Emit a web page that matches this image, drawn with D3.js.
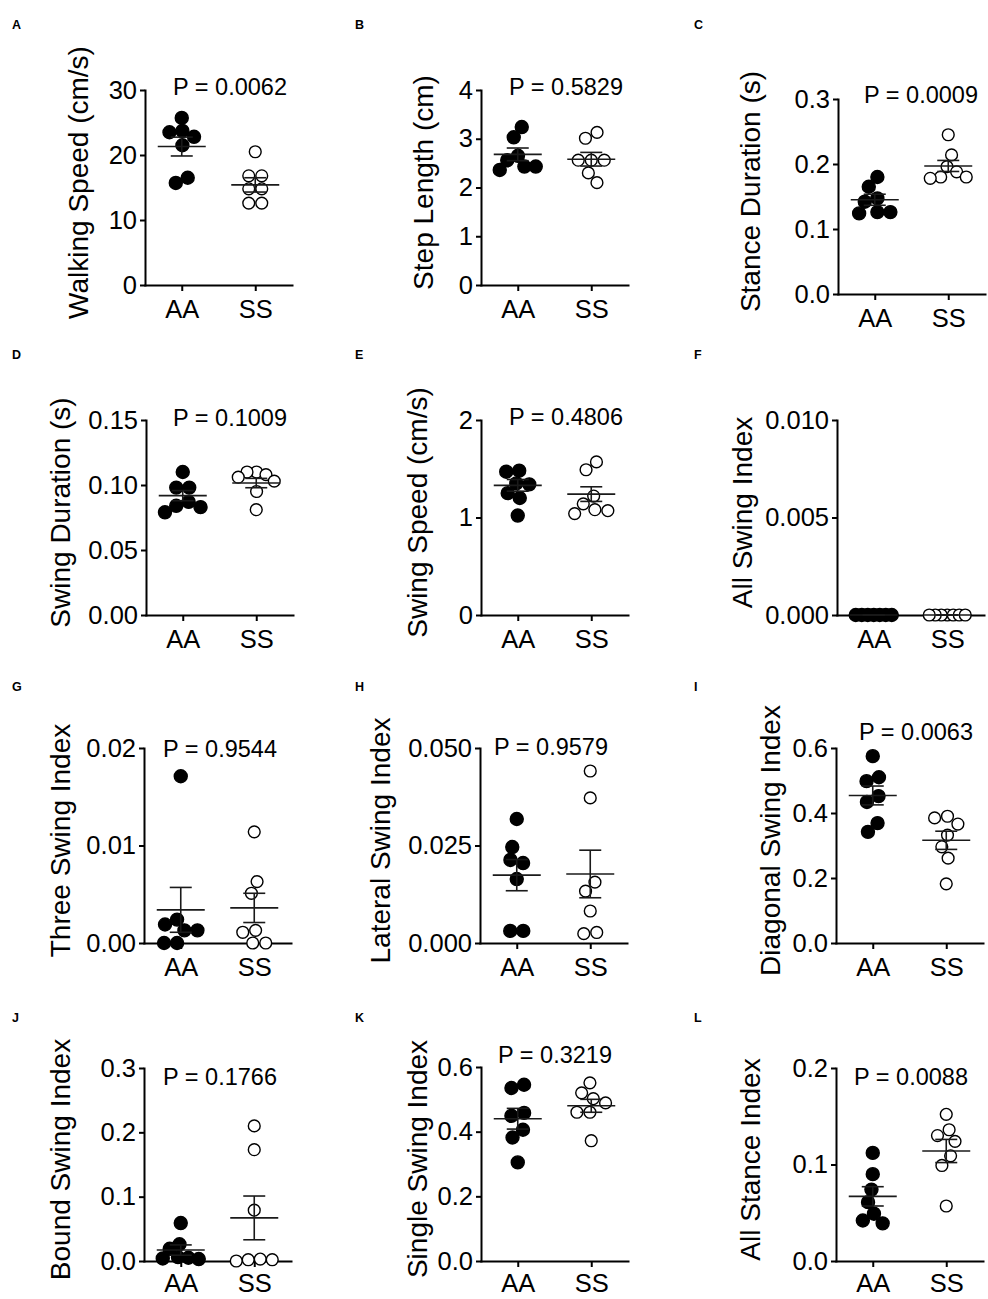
<!DOCTYPE html>
<html>
<head>
<meta charset="utf-8">
<script src="https://cdn.jsdelivr.net/npm/d3@7"></script>
<style>
  body { margin: 0; background: #fff; }
  svg text { font-family: "Liberation Sans", Arial, sans-serif; fill: #000; }
</style>
</head>
<body>
<div id="chart"></div>
<script>
// data
const groups = ["AA", "SS"];
const panelLetters = ["A", "B", "C", "D", "E", "F", "G", "H", "I", "J", "K", "L"];
const yTitles = [
  "Walking Speed (cm/s)", "Step Length (cm)", "Stance Duration (s)",
  "Swing Duration (s)", "Swing Speed (cm/s)", "All Swing Index",
  "Three Swing Index", "Lateral Swing Index", "Diagonal Swing Index",
  "Bound Swing Index", "Single Swing Index", "All Stance Index"
];
const pLabels = [
  "P = 0.0062", "P = 0.5829", "P = 0.0009",
  "P = 0.1009", "P = 0.4806", null,
  "P = 0.9544", "P = 0.9579", "P = 0.0063",
  "P = 0.1766", "P = 0.3219", "P = 0.0088"
];
const yTicks = [
  [0, 10, 20, 30], [0, 1, 2, 3, 4], [0, 0.1, 0.2, 0.3],
  [0, 0.05, 0.10, 0.15], [0, 1, 2], [0, 0.005, 0.010],
  [0, 0.01, 0.02], [0, 0.025, 0.050], [0, 0.2, 0.4, 0.6],
  [0, 0.1, 0.2, 0.3], [0, 0.2, 0.4, 0.6], [0, 0.1, 0.2]
];
const tickDecimals = [0, 0, 1, 2, 0, 3, 2, 3, 1, 1, 1, 1];

const aaPoints = [
  [25.7, 23.7, 23.5, 22.8, 21.5, 16.5, 15.7],
  [3.24, 3.03, 2.65, 2.56, 2.43, 2.43, 2.36],
  [0.180, 0.165, 0.147, 0.142, 0.126, 0.124, 0.126],
  [0.110, 0.098, 0.098, 0.087, 0.084, 0.083, 0.079],
  [1.48, 1.47, 1.35, 1.34, 1.25, 1.20, 1.02],
  [0, 0, 0, 0, 0, 0, 0],
  [0.0171, 0.0024, 0.0019, 0.0013, 0.0013, 0, 0],
  [0.0318, 0.0246, 0.0213, 0.0205, 0.0164, 0.0031, 0.0031],
  [0.575, 0.510, 0.498, 0.452, 0.434, 0.369, 0.342],
  [0.059, 0.026, 0.019, 0.006, 0.005, 0.004, 0.003],
  [0.545, 0.535, 0.458, 0.449, 0.406, 0.382, 0.305],
  [0.112, 0.090, 0.074, 0.061, 0.049, 0.042, 0.039]
];
const ssPoints = [
  [20.5, 16.8, 16.8, 14.8, 14.8, 12.6, 12.6],
  [3.13, 3.01, 2.56, 2.56, 2.56, 2.30, 2.10],
  [0.245, 0.214, 0.196, 0.188, 0.180, 0.180, 0.178],
  [0.110, 0.110, 0.108, 0.106, 0.103, 0.095, 0.081],
  [1.57, 1.49, 1.22, 1.14, 1.08, 1.07, 1.04],
  [0, 0, 0, 0, 0, 0, 0],
  [0.0114, 0.0063, 0.0051, 0.0013, 0.0011, 0, 0],
  [0.0441, 0.0372, 0.0156, 0.0133, 0.0082, 0.0027, 0.0024],
  [0.390, 0.385, 0.366, 0.332, 0.296, 0.261, 0.182],
  [0.210, 0.173, 0.079, 0.003, 0.002, 0.002, 0.000],
  [0.551, 0.520, 0.502, 0.489, 0.460, 0.460, 0.372],
  [0.152, 0.136, 0.130, 0.124, 0.109, 0.099, 0.057]
];
const aaMean = [21.3, 2.68, 0.145, 0.0918, 1.33, 0, 0.0034, 0.0174, 0.454, 0.017, 0.44, 0.067];
const aaSem  = [1.45, 0.13, 0.0085, 0.0039, 0.06, 0, 0.0023, 0.0040, 0.029, 0.008, 0.032, 0.010];
const ssMean = [15.4, 2.58, 0.197, 0.1015, 1.24, 0, 0.0036, 0.0177, 0.316, 0.067, 0.48, 0.114];
const ssSem  = [1.1, 0.14, 0.0085, 0.0036, 0.075, 0, 0.0015, 0.0061, 0.028, 0.034, 0.02, 0.012];

// panel placement on the page
const plotW = 147;
const layout = [
  {x: 145, y: 90,   h: 195, titleDx: -57, pDx: 142, pDy: 5},
  {x: 481, y: 90,   h: 195, titleDx: -48, pDx: 142, pDy: 5},
  {x: 838, y: 99,   h: 195, titleDx: -78, pDx: 140, pDy: 4},
  {x: 146, y: 420,  h: 195, titleDx: -76, pDx: 141, pDy: 6},
  {x: 481, y: 420,  h: 195, titleDx: -54, pDx: 142, pDy: 5},
  {x: 837, y: 420,  h: 195, titleDx: -85, pDx: 0,   pDy: 0},
  {x: 144, y: 748,  h: 195, titleDx: -74, pDx: 133, pDy: 9},
  {x: 480, y: 748,  h: 195, titleDx: -90, pDx: 128, pDy: 7},
  {x: 836, y: 748,  h: 195, titleDx: -56, pDx: 137, pDy: -8},
  {x: 144, y: 1068, h: 193, titleDx: -74, pDx: 133, pDy: 17},
  {x: 481, y: 1067, h: 194, titleDx: -54, pDx: 131, pDy: -4},
  {x: 836, y: 1068, h: 193, titleDx: -76, pDx: 132, pDy: 17}
];
const letterX = [12, 355, 694];
const letterY = [29, 359, 691, 1022];

const R = 6.5;

const svg = d3.select("#chart")
  .append("svg")
  .attr("width", 988)
  .attr("height", 1299);

// simple beeswarm: spread points that would overlap, then centre each cluster
function swarm(values, y) {
  const d = 2 * R;
  const pts = values.map(v => ({v: v, y: y(v), x: 0})).sort((a, b) => a.y - b.y);
  const placed = [];
  pts.forEach(p => {
    const cands = [0];
    placed.forEach(q => {
      const dy = Math.abs(q.y - p.y);
      if (dy < d) {
        const dx = Math.sqrt(d * d - dy * dy);
        cands.push(q.x + dx, q.x - dx);
      }
    });
    cands.sort((a, b) => Math.abs(a) - Math.abs(b) || a - b);
    p.x = cands.find(c => placed.every(q => (q.x - c) ** 2 + (q.y - p.y) ** 2 >= d * d - 0.01));
    placed.push(p);
  });
  // clusters of vertically touching points
  const clusters = [];
  pts.forEach((p, i) => {
    if (i === 0 || p.y - pts[i - 1].y >= d) clusters.push([p]);
    else clusters[clusters.length - 1].push(p);
  });
  clusters.forEach(c => {
    const mid = (d3.min(c, p => p.x) + d3.max(c, p => p.x)) / 2;
    c.forEach(p => p.x -= mid);
    const m = d3.max(c, p => Math.abs(p.x));
    if (m > 18) c.forEach(p => p.x *= 18 / m);
  });
  return pts;
}

layout.forEach((lay, i) => {
  const g = svg.append("g").attr("class", "panel");

  const y = d3.scaleLinear()
    .domain([0, d3.max(yTicks[i])])
    .range([lay.y + lay.h, lay.y]);

  const x = d3.scalePoint()
    .domain(groups)
    .range([lay.x, lay.x + plotW])
    .padding(0.5);

  // panel letter
  g.append("text")
    .attr("x", letterX[i % 3])
    .attr("y", letterY[Math.floor(i / 3)])
    .style("font-size", "12.5px")
    .style("font-weight", "bold")
    .text(panelLetters[i]);

  // y axis
  const yAxis = g.append("g")
    .attr("transform", `translate(${lay.x},0)`)
    .call(d3.axisLeft(y)
      .tickValues(yTicks[i])
      .tickFormat(d3.format(`.${tickDecimals[i]}f`))
      .tickSize(5)
      .tickPadding(3)
      .tickSizeOuter(0));

  // x axis
  const xAxis = g.append("g")
    .attr("transform", `translate(0,${lay.y + lay.h})`)
    .call(d3.axisBottom(x)
      .tickSize(6)
      .tickPadding(i >= 9 ? 7 : 9)
      .tickSizeOuter(0));

  [yAxis, xAxis].forEach(ax => {
    ax.attr("font-family", null).attr("font-size", null);
    ax.select(".domain").attr("stroke", "#000").attr("stroke-width", 2).attr("stroke-linecap", "square");
    ax.selectAll(".tick line").attr("stroke", "#000").attr("stroke-width", 2);
    ax.selectAll(".tick text").style("font-size", "25.5px");
  });

  // y title
  g.append("text")
    .attr("transform", `translate(${lay.x + lay.titleDx},${lay.y + lay.h / 2 - 5}) rotate(-90)`)
    .attr("text-anchor", "middle")
    .style("font-size", "28px")
    .text(yTitles[i]);

  // P value
  if (pLabels[i]) {
    g.append("text")
      .attr("x", lay.x + lay.pDx)
      .attr("y", lay.y + lay.pDy)
      .attr("text-anchor", "end")
      .style("font-size", "23.5px")
      .text(pLabels[i]);
  }

  const sets = [
    {key: "AA", vals: aaPoints[i], mean: aaMean[i], sem: aaSem[i], fill: "#000"},
    {key: "SS", vals: ssPoints[i], mean: ssMean[i], sem: ssSem[i], fill: "#fff"}
  ];

  sets.forEach(s => {
    const cx = x(s.key);
    const pts = swarm(s.vals, y);

    g.append("g").selectAll("circle")
      .data(pts)
      .join("circle")
      .attr("cx", d => cx + d.x)
      .attr("cy", d => d.y)
      .attr("r", s.key === "AA" ? R : R - 0.6)
      .attr("fill", s.fill)
      .attr("stroke", "#000")
      .attr("stroke-width", 1.4);

    // mean and SEM
    const eb = g.append("g")
      .attr("stroke", "#1a1a1a")
      .attr("stroke-width", 1.6);
    eb.append("line")
      .attr("x1", cx - 24).attr("x2", cx + 24)
      .attr("y1", y(s.mean)).attr("y2", y(s.mean));
    eb.append("line")
      .attr("x1", cx).attr("x2", cx)
      .attr("y1", y(s.mean + s.sem)).attr("y2", y(s.mean - s.sem));
    [s.mean + s.sem, s.mean - s.sem].forEach(v => {
      eb.append("line")
        .attr("x1", cx - 11).attr("x2", cx + 11)
        .attr("y1", y(v)).attr("y2", y(v));
    });
  });
});
</script>
</body>
</html>
